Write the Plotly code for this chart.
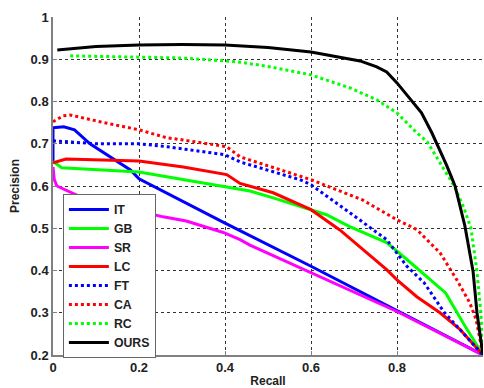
import plotly.graph_objects as go

# ---- data ----
it_x = [0.0, 0.0, 0.025, 0.05, 0.086, 0.14, 0.18, 0.2, 0.4, 0.6, 0.8, 1.0]
it_y = [0.655, 0.738, 0.74, 0.733, 0.70, 0.664, 0.638, 0.617, 0.512, 0.41, 0.306, 0.2]

gb_x = [0.0, 0.02, 0.2, 0.3, 0.4, 0.458, 0.512, 0.6, 0.636, 0.69, 0.776, 0.823, 0.863, 0.913, 0.956, 0.977, 1.0]
gb_y = [0.658, 0.643, 0.633, 0.615, 0.598, 0.588, 0.572, 0.544, 0.532, 0.504, 0.466, 0.426, 0.39, 0.347, 0.272, 0.236, 0.2]

sr_x = [0.0, 0.003, 0.009, 0.063, 0.256, 0.31, 0.396, 0.435, 0.458, 0.6, 0.8, 1.0]
sr_y = [0.645, 0.615, 0.600, 0.575, 0.527, 0.517, 0.490, 0.473, 0.460, 0.395, 0.303, 0.2]

lc_x = [0.0, 0.03, 0.2, 0.265, 0.303, 0.404, 0.435, 0.512, 0.6, 0.667, 0.73, 0.776, 0.8, 0.846, 0.9, 0.947, 1.0]
lc_y = [0.655, 0.664, 0.659, 0.65, 0.645, 0.627, 0.606, 0.584, 0.544, 0.496, 0.442, 0.402, 0.378, 0.338, 0.30, 0.26, 0.2]

ft_x = [0.0, 0.03, 0.1, 0.2, 0.265, 0.4, 0.435, 0.574, 0.6, 0.69, 0.776, 0.823, 0.863, 0.909, 0.956, 1.0]
ft_y = [0.707, 0.705, 0.70, 0.700, 0.693, 0.674, 0.657, 0.615, 0.603, 0.537, 0.473, 0.41, 0.371, 0.302, 0.248, 0.2]

ca_x = [0.0, 0.023, 0.04, 0.109, 0.2, 0.265, 0.303, 0.404, 0.435, 0.6, 0.72, 0.8, 0.846, 0.9, 0.939, 0.969, 0.984, 1.0]
ca_y = [0.752, 0.766, 0.768, 0.752, 0.733, 0.714, 0.709, 0.693, 0.669, 0.615, 0.567, 0.52, 0.497, 0.442, 0.378, 0.324, 0.284, 0.2]

rc_x = [0.04, 0.1, 0.2, 0.3, 0.4, 0.435, 0.5, 0.6, 0.691, 0.753, 0.8, 0.846, 0.87, 0.9, 0.933, 0.955, 0.972, 0.986, 0.995, 1.0]
rc_y = [0.908, 0.907, 0.905, 0.903, 0.896, 0.893, 0.883, 0.863, 0.832, 0.804, 0.773, 0.726, 0.705, 0.655, 0.600, 0.550, 0.500, 0.397, 0.300, 0.2]

ours_x = [0.01, 0.1, 0.2, 0.3, 0.4, 0.5, 0.6, 0.667, 0.714, 0.753, 0.776, 0.8, 0.838, 0.857, 0.881, 0.893, 0.9, 0.915, 0.925, 0.935, 0.958, 0.977, 0.986, 1.0]
ours_y = [0.922, 0.93, 0.934, 0.935, 0.934, 0.928, 0.917, 0.905, 0.896, 0.882, 0.87, 0.844, 0.797, 0.773, 0.726, 0.70, 0.686, 0.65, 0.625, 0.60, 0.505, 0.397, 0.30, 0.2]

names = ["IT", "GB", "SR", "LC", "FT", "CA", "RC", "OURS"]
colors = ["#0000ff", "#00ff00", "#ff00ff", "#ff0000", "#0000ff", "#ff0000", "#00ff00", "#000000"]
dashes = ["solid", "solid", "solid", "solid", "3px,3px", "3px,3px", "3px,3px", "solid"]
xs = [it_x, gb_x, sr_x, lc_x, ft_x, ca_x, rc_x, ours_x]
ys = [it_y, gb_y, sr_y, lc_y, ft_y, ca_y, rc_y, ours_y]

x_ticks = [0, 0.2, 0.4, 0.6, 0.8, 1]
x_labels = ["0", "0.2", "0.4", "0.6", "0.8", "1"]
y_ticks = [0.2, 0.3, 0.4, 0.5, 0.6, 0.7, 0.8, 0.9, 1]
y_labels = ["0.2", "0.3", "0.4", "0.5", "0.6", "0.7", "0.8", "0.9", "1"]

FONT = "Arial, Liberation Sans, sans-serif"

fig = go.Figure()
for n, c, d, x, y in zip(names, colors, dashes, xs, ys):
    fig.add_trace(go.Scatter(x=x, y=y, mode="lines", name=n,
                             line=dict(color=c, width=3, dash=d)))

axis_common = dict(
    showgrid=True, gridcolor="#333333", griddash="3px,3px", gridwidth=1,
    showline=True, linecolor="#808080", linewidth=1.5,
    ticks="inside", ticklen=4, tickcolor="#808080",
    tickfont=dict(family=FONT, size=13, color="#222222", weight="bold"),
    zeroline=False,
)

fig.update_layout(
    width=484, height=388,
    margin=dict(l=53, r=1, t=17, b=33),
    paper_bgcolor="white", plot_bgcolor="white",
    xaxis=dict(range=[0, 1], tickvals=x_ticks, ticktext=x_labels,
               title=dict(text="Recall", font=dict(family=FONT, size=12, color="#222222", weight="bold"), standoff=4),
               **axis_common),
    yaxis=dict(range=[0.2, 1], tickvals=y_ticks, ticktext=y_labels,
               title=dict(text="Precision", font=dict(family=FONT, size=12, color="#222222", weight="bold"), standoff=8),
               **axis_common),
    legend=dict(x=0.023, y=0.476, xanchor="left", yanchor="top",
                bgcolor="white", bordercolor="#666666", borderwidth=1,
                font=dict(family=FONT, size=12.3, color="#222222", weight="bold"),
                itemwidth=40, tracegroupgap=0),
    showlegend=True,
)

fig.write_html("out.html", config={"displayModeBar": False},
               post_script="document.body.style.margin='0';")
